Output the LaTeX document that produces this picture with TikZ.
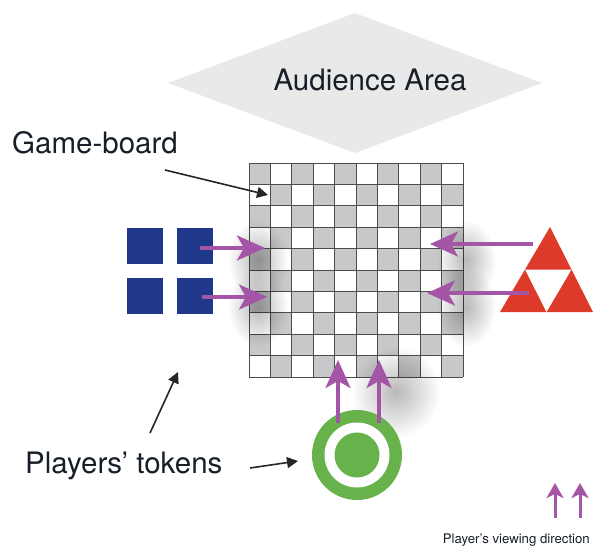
\documentclass[tikz,border=0pt]{standalone}
\usepackage{fontspec}
\setmainfont{TeX Gyre Heros}
\usetikzlibrary{arrows.meta,fadings}

\definecolor{audgray}{RGB}{233,233,233}
\definecolor{cellgray}{RGB}{200,200,202}
\definecolor{tokblue}{RGB}{32,56,140}
\definecolor{tokred}{RGB}{221,58,42}
\definecolor{tokgreen}{RGB}{104,178,75}
\definecolor{viewpurple}{RGB}{165,85,165}
\definecolor{textdark}{RGB}{22,30,40}

\tikzfading[name=softspot, inner color=transparent!0, outer color=transparent!100]

\tikzset{
  bigtext/.style={font=\fontsize{29.5}{32}\selectfont, text=textdark, inner sep=0pt},
  smalltext/.style={font=\fontsize{13.2}{15}\selectfont, text=textdark, inner sep=0pt},
  pointer/.style={-{Triangle[length=11pt,width=11pt]}, line width=1.6pt, black!85},
  view/.style={-{Stealth[length=28pt,width=25pt,inset=7pt]}, line width=3.4pt, viewpurple},
  smallview/.style={-{Stealth[length=15pt,width=17pt,inset=4pt]}, line width=3pt, viewpurple},
  bluetok/.style={fill=tokblue, minimum size=36pt, inner sep=0pt},
  gridline/.style={black!70, line width=0.9pt},
  shadowspot/.style={black, opacity=0.28, path fading=softspot}
}

\begin{document}
\begin{tikzpicture}[x=1pt,y=-1pt]
\useasboundingbox (0,0) rectangle (594,549);
% audience area
\fill[audgray] (168,83) -- (355,13) -- (542,83) -- (355,153) -- cycle;
\node[bigtext, anchor=base] (aud) at (370,90) {Audience Area};
% game-board
\node[minimum size=214pt, inner sep=0pt] (board) at (356,270) {};
\foreach \i in {0,...,9}
  \foreach \j in {0,...,9} {
    \pgfmathtruncatemacro\cellodd{mod(\i+\j,2)}
    \ifnum\cellodd=0
      \fill[cellgray] (249+21.4*\i,163+21.4*\j) rectangle +(21.4,21.4);
    \fi
  }
\foreach \k in {0,...,10} {
  \draw[gridline] (249+21.4*\k,163) -- +(0,214);
  \draw[gridline] (249,163+21.4*\k) -- +(214,0);
}
% shadows of the arrows
\fill[shadowspot] (258,260) ellipse (30 and 40);
\fill[shadowspot] (258,307) ellipse (30 and 40);
\fill[shadowspot] (466,260) ellipse (30 and 40);
\fill[shadowspot] (466,307) ellipse (30 and 40);
\fill[shadowspot] (396,392) ellipse (44 and 46);
% blue player
\node[bluetok] (b1) at (145,246) {};
\node[bluetok] (b2) at (195,246) {};
\node[bluetok] (b3) at (145,296) {};
\node[bluetok] (b4) at (195,296) {};
% red player
\fill[tokred] (550,227) -- (593,312) -- (500,312) -- cycle;
\fill[white] (525,269.5) -- (571.5,269.5) -- (546.5,312) -- cycle;
\coordinate (red) at (546.5,284);
% green player
\fill[tokgreen] (357,455) circle (45);
\fill[white] (357,455) circle (32.5);
\fill[tokgreen] (357,455) circle (22.5);
\coordinate (green) at (357,455);
% viewing directions
\coordinate (bs1) at (200,248);
\coordinate (bt1) at (265,248);
\coordinate (bs2) at (202,297);
\coordinate (bt2) at (267,297);
\draw[view] (bs1) -- (bt1);
\draw[view] (bs2) -- (bt2);
\coordinate (rs1) at (533,244);
\coordinate (rt1) at (430,244);
\coordinate (rs2) at (529,293);
\coordinate (rt2) at (427,293);
\draw[view] (rs1) -- (rt1);
\draw[view] (rs2) -- (rt2);
\coordinate (gs1) at (338,423);
\coordinate (gt1) at (338,360);
\coordinate (gs2) at (379,423);
\coordinate (gt2) at (379,360);
\draw[view] (gs1) -- (gt1);
\draw[view] (gs2) -- (gt2);
% labels
\node[bigtext, anchor=base west] (gblabel) at (12,153) {Game-board};
\coordinate (gbfrom) at (165,170);
\coordinate (gbto) at (268,195);
\draw[pointer] (gbfrom) -- (gbto);
\node[bigtext, anchor=base west] (ptlabel) at (25,473) {Players' tokens};
\coordinate (ptfrom1) at (150,433);
\coordinate (ptto1) at (178,372);
\coordinate (ptfrom2) at (250,468);
\coordinate (ptto2) at (298,461);
\draw[pointer] (ptfrom1) -- (ptto1);
\draw[pointer] (ptfrom2) -- (ptto2);
% legend
\coordinate (ls1) at (555,518);
\coordinate (lt1) at (555,483);
\coordinate (ls2) at (580,518);
\coordinate (lt2) at (580,483);
\draw[smallview] (ls1) -- (lt1);
\draw[smallview] (ls2) -- (lt2);
\node[smalltext, anchor=base east] (legend) at (590,543) {Player's viewing direction};
\end{tikzpicture}
\end{document}
